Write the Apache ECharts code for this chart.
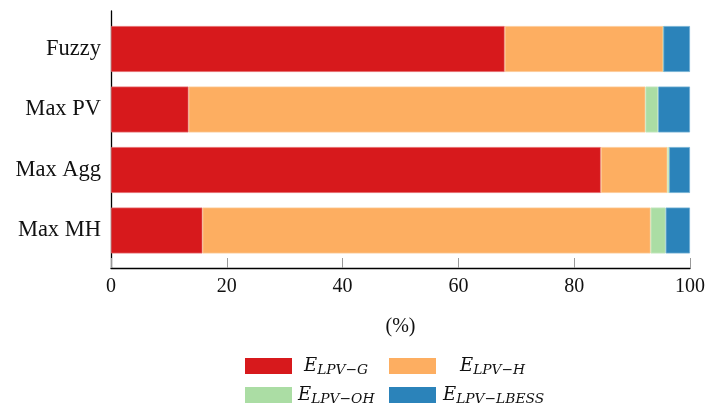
<!DOCTYPE html>
<html>
<head>
<meta charset="utf-8">
<script src="https://cdn.jsdelivr.net/npm/echarts@6/dist/echarts.min.js"></script>
<style>
  html, body { margin: 0; padding: 0; background: #fff; }
  #chart { width: 708px; height: 409px; }
</style>
</head>
<body>
<div id="chart"></div>
<script>
// Energy share of each control strategy (%), stacked per category
const categories = ['Fuzzy', 'Max PV', 'Max Agg', 'Max MH'];
const subscripts = ['LPV\u2212G', 'LPV\u2212H', 'LPV\u2212OH', 'LPV\u2212LBESS'];
const eGrid = [68.0, 13.4, 84.6, 15.8];
const eHeat = [27.4, 78.9, 11.5, 77.4];
const eOverheat = [0.0, 2.2, 0.3, 2.6];
const eBattery = [4.6, 5.5, 3.6, 4.2];
const xTicks = [0, 20, 40, 60, 80, 100];

const colors = ['#d7191c', '#fdae61', '#abdda4', '#2b83ba'];
const edges = ['#e4676a', '#fdc995', '#c7e9c2', '#70aed3'];
const seriesValues = [eGrid, eHeat, eOverheat, eBattery];
const names = subscripts.map(s => 'E' + s);

const serif = '"Liberation Serif", "DejaVu Serif", serif';
const mathRich = {
  e: { fontFamily: '"DejaVu Serif", serif', fontStyle: 'italic', fontSize: 18, color: '#111' },
  s: { fontFamily: '"DejaVu Serif", serif', fontStyle: 'italic', fontSize: 13.8, color: '#111', padding: [8, 0, 0, 0] }
};

function legendAt(idx, left, top, padLeft) {
  return {
    data: [names[idx]],
    left: left,
    top: top,
    padding: 0,
    orient: 'horizontal',
    icon: 'rect',
    itemWidth: 47,
    itemHeight: 16,
    itemStyle: { borderWidth: 0 },
    selectedMode: false,
    formatter: () => '{e|E}{s|' + subscripts[idx] + '}',
    textStyle: { rich: mathRich, padding: [0, 0, 0, padLeft] }
  };
}

const chart = echarts.init(document.getElementById('chart'), null, { renderer: 'canvas' });

chart.setOption({
  animation: false,
  backgroundColor: '#ffffff',
  grid: [
    // bars
    { left: 111, right: 18, top: 18.75, height: 242, containLabel: false },
    // axis frame
    { left: 111, right: 18, top: 11, height: 257, containLabel: false }
  ],
  xAxis: [
    { gridIndex: 0, type: 'value', min: 0, max: 100, show: false },
    {
      gridIndex: 1, type: 'value', min: 0, max: 100, interval: 20,
      axisLine: { show: true, lineStyle: { color: '#000', width: 1.3 } },
      axisTick: { show: true, inside: true, length: 10, lineStyle: { color: '#999', width: 1 } },
      splitLine: { show: false },
      axisLabel: {
        show: true, margin: 9, fontFamily: serif, fontSize: 20, color: '#111',
        customValues: xTicks
      },
      name: '(%)', nameLocation: 'middle', nameGap: 49,
      nameTextStyle: { fontFamily: serif, fontSize: 20, color: '#111' }
    }
  ],
  yAxis: [
    {
      gridIndex: 0, type: 'category', data: categories, inverse: true,
      axisLine: { show: false }, axisTick: { show: false },
      axisLabel: { margin: 10, fontFamily: serif, fontSize: 22.5, color: '#111' }
    },
    {
      gridIndex: 1, type: 'value', min: 0, max: 1,
      axisLine: { show: true, lineStyle: { color: '#000', width: 1.3 } },
      axisTick: { show: false }, axisLabel: { show: false }, splitLine: { show: false }
    }
  ],
  legend: [
    legendAt(0, 245, 357, 7),
    legendAt(1, 389, 357, 19),
    legendAt(2, 245, 386, 1),
    legendAt(3, 389, 386, 2)
  ],
  series: seriesValues.map((vals, i) => ({
    name: names[i],
    type: 'bar',
    stack: 'total',
    xAxisIndex: 0,
    yAxisIndex: 0,
    barCategoryGap: '24%',
    data: vals,
    itemStyle: { color: colors[i], borderColor: edges[i], borderWidth: 0.8 }
  }))
});
</script>
</body>
</html>
